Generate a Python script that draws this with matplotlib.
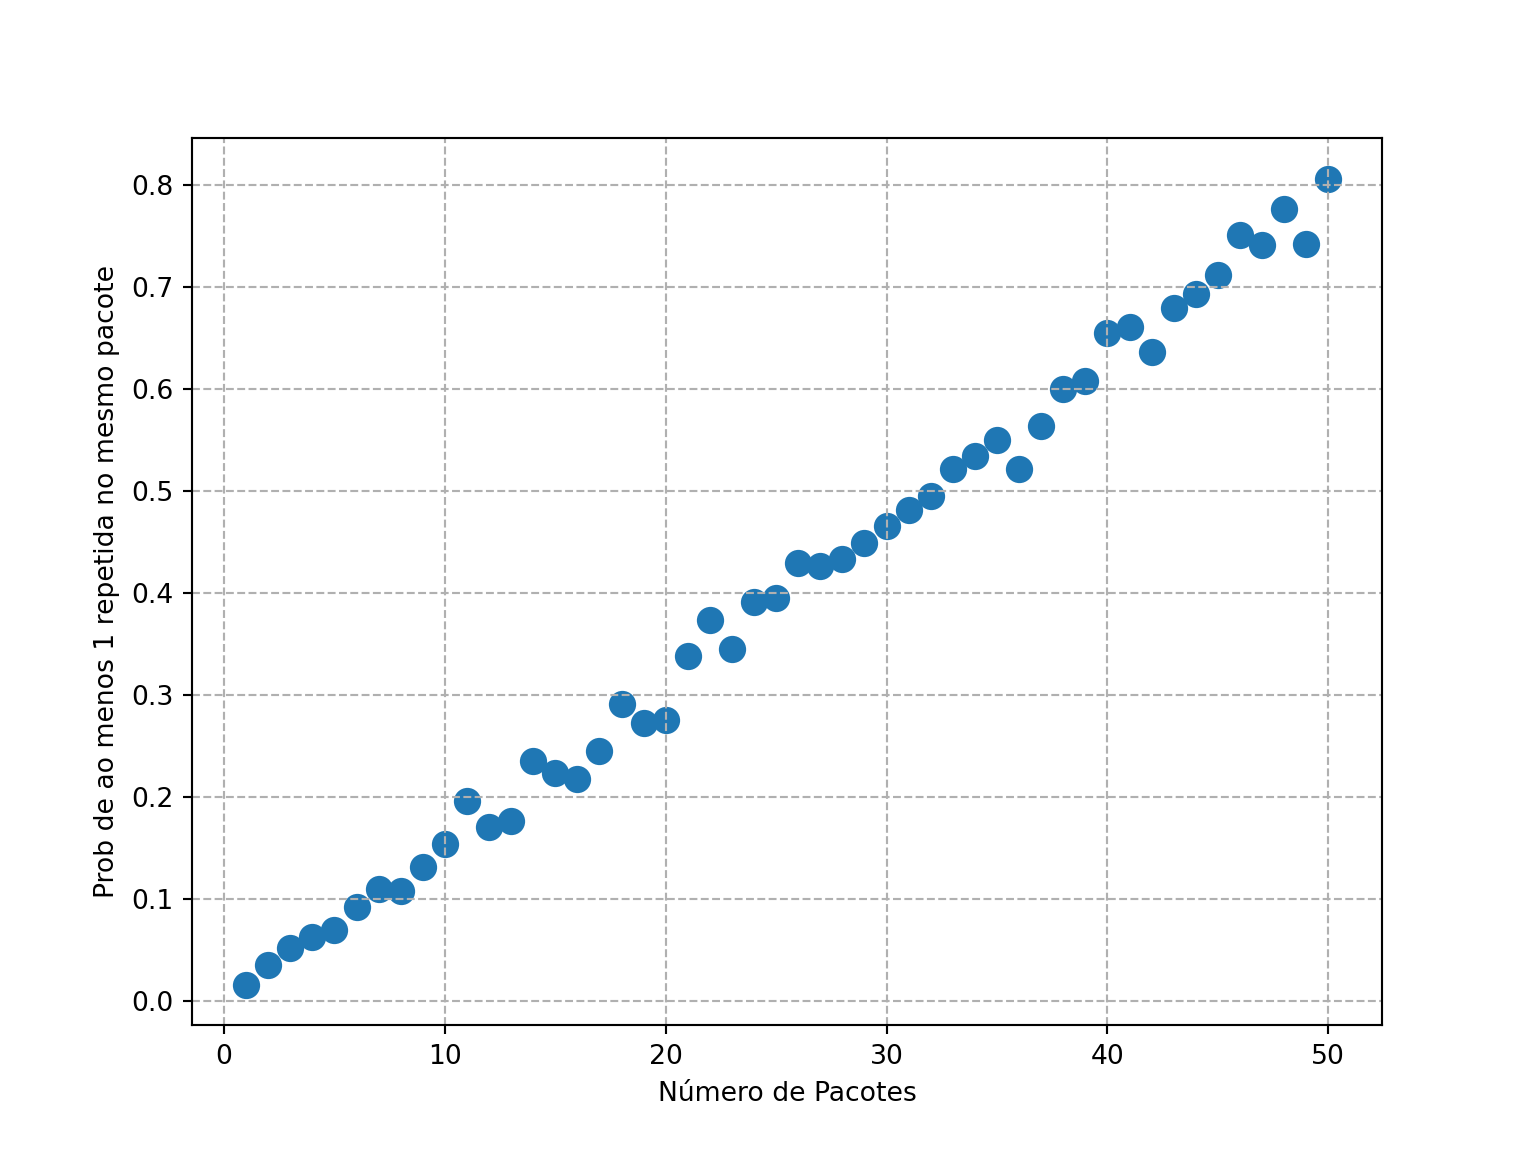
import numpy as np
import matplotlib.pyplot as plt

pacotes = np.arange(1, 51)
prob = [0.016, 0.036, 0.052, 0.063, 0.070, 0.092, 0.110, 0.108, 0.132, 0.154,
        0.196, 0.171, 0.177, 0.235, 0.224, 0.218, 0.245, 0.291, 0.273, 0.276,
        0.338, 0.374, 0.345, 0.391, 0.395, 0.429, 0.426, 0.433, 0.449, 0.466,
        0.481, 0.495, 0.521, 0.534, 0.550, 0.521, 0.564, 0.600, 0.608, 0.655,
        0.661, 0.636, 0.679, 0.693, 0.712, 0.751, 0.741, 0.776, 0.742, 0.806]

fig, ax = plt.subplots(figsize=(8, 6), dpi=192)
ax.scatter(pacotes, prob, s=85)
ax.set_xlabel("Número de Pacotes")
ax.set_ylabel("Prob de ao menos 1 repetida no mesmo pacote")
ax.grid(True, linestyle="--")

plt.savefig("out.png", dpi=192)
